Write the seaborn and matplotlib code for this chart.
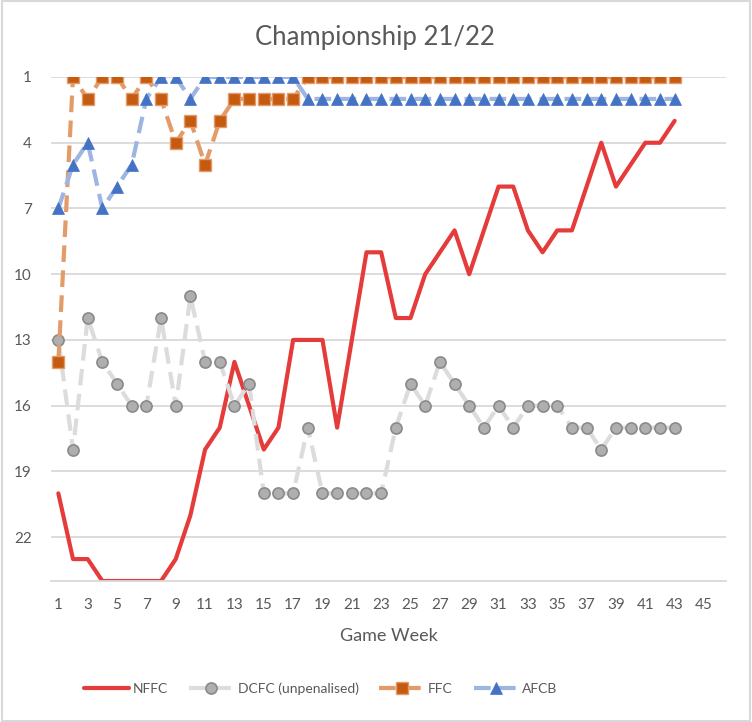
import numpy as np
import pandas as pd
import seaborn as sns
import matplotlib.pyplot as plt
from matplotlib.patches import Rectangle

# League position by game week
weeks = list(range(1, 44))
nffc = [20, 23, 23, 24, 24, 24, 24, 24, 23, 21, 18, 17, 14, 16, 18, 17, 13, 13, 13, 17,
        13, 9, 9, 12, 12, 10, 9, 8, 10, 8, 6, 6, 8, 9, 8, 8, 6, 4, 6, 5, 4, 4, 3]
dcfc = [13, 18, 12, 14, 15, 16, 16, 12, 16, 11, 14, 14, 16, 15, 20, 20, 20, 17, 20, 20,
        20, 20, 20, 17, 15, 16, 14, 15, 16, 17, 16, 17, 16, 16, 16, 17, 17, 18, 17, 17, 17, 17, 17]
ffc = [14, 1, 2, 1, 1, 2, 1, 2, 4, 3, 5, 3, 2, 2, 2, 2, 2, 1, 1, 1,
       1, 1, 1, 1, 1, 1, 1, 1, 1, 1, 1, 1, 1, 1, 1, 1, 1, 1, 1, 1, 1, 1, 1]
afcb = [7, 5, 4, 7, 6, 5, 2, 1, 1, 2, 1, 1, 1, 1, 1, 1, 1, 2, 2, 2,
        2, 2, 2, 2, 2, 2, 2, 2, 2, 2, 2, 2, 2, 2, 2, 2, 2, 2, 2, 2, 2, 2, 2]

df = pd.DataFrame({'Week': weeks, 'NFFC': nffc, 'DCFC': dcfc, 'FFC': ffc, 'AFCB': afcb})

sns.set_theme(style='white')
plt.rcParams['font.family'] = ['Lato', 'DejaVu Sans']
textColor = '#595959'
gridColor = '#D9D9D9'

fig = plt.figure(figsize=(7.52, 7.22), dpi=100)
ax = fig.add_axes([51/752, 1 - 581/722, 675/752, 504/722])

dash = (0, (4, 2))
sns.lineplot(data=df, x='Week', y='NFFC', ax=ax, color='#E63B3B', linewidth=3,
             label='NFFC')
sns.lineplot(data=df, x='Week', y='DCFC', ax=ax, color='#DCDCDC', linewidth=3,
             linestyle=dash, marker='o', markersize=8, markerfacecolor='#AFAFAF',
             markeredgecolor='#8A8A8A', markeredgewidth=1.2, label='DCFC (unpenalised)')
sns.lineplot(data=df, x='Week', y='FFC', ax=ax, color='#E49B6A', linewidth=3,
             linestyle=dash, marker='s', markersize=8, markerfacecolor='#C55A11',
             markeredgecolor='#E49B6A', markeredgewidth=1, label='FFC')
sns.lineplot(data=df, x='Week', y='AFCB', ax=ax, color='#9DB5E2', linewidth=3,
             linestyle=dash, marker='^', markersize=8, markerfacecolor='#4472C4',
             markeredgecolor='#4472C4', markeredgewidth=0.5, label='AFCB')

# Axis setup - reversed positions
ax.set_xlim(0.5, 46.5)
ax.set_ylim(24, 1)
ax.set_yticks(range(1, 23, 3))
ax.set_xticks(range(1, 46, 2))
ax.grid(axis='y', color=gridColor, linewidth=1.3)
ax.grid(axis='x', visible=False)
for s in ['top', 'left', 'right']:
    ax.spines[s].set_visible(False)
ax.spines['bottom'].set_color(gridColor)
ax.spines['bottom'].set_linewidth(1.3)
ax.tick_params(axis='y', length=0, pad=14, labelsize=11, labelcolor=textColor)
ax.tick_params(axis='x', length=0, pad=12, labelsize=11, labelcolor=textColor)
ax.set_xlabel('Game Week', fontsize=13, color=textColor, labelpad=12)
ax.set_ylabel('')

fig.suptitle('Championship 21/22', x=375/752, y=1 - 37/722, va='center',
             fontsize=18.5, color=textColor)

ax.legend(loc='center', bbox_to_anchor=(321/752, 1 - 689/722),
          bbox_transform=fig.transFigure, ncol=4, frameon=False, numpoints=1,
          fontsize=10, labelcolor=textColor, handlelength=3.2,
          columnspacing=1.5, handletextpad=0.3)

# Chart area border
fig.patches.append(Rectangle((0.002, 0.002), 0.996, 0.996, transform=fig.transFigure,
                             fill=False, edgecolor=gridColor, linewidth=1.5))

fig.savefig('out.png', dpi=100, facecolor='white')
